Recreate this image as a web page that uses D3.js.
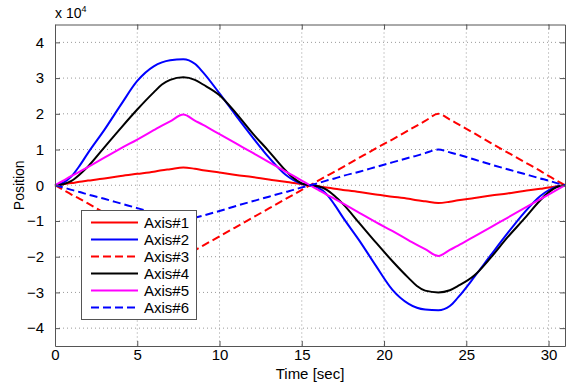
<!DOCTYPE html>
<html>
<head>
<meta charset="utf-8">
<script src="https://cdn.jsdelivr.net/npm/d3@7"></script>
<style>
  html, body { margin: 0; padding: 0; background: #fff; }
  svg { display: block; }
</style>
</head>
<body>
<script>
// time samples (sec)
const time = [0, 0.5, 1, 1.5, 2, 3, 4, 5, 6, 6.5, 7, 7.8, 8.5, 9, 10, 11, 12, 13, 14, 14.5, 15, 15.5,
  16, 16.5, 17, 17.5, 18.5, 19.5, 20.5, 21.5, 22, 22.5, 23.3, 24, 24.5, 25.5, 26.5, 27.5, 28.5, 29.5, 30, 30.5, 31];

// positions (x 10^4)
const axis1 = [0, 0.03, 0.06, 0.1, 0.13, 0.19, 0.26, 0.32, 0.38, 0.42, 0.45, 0.5, 0.46, 0.42, 0.36, 0.29, 0.23, 0.16, 0.1, 0.06, 0.03, 0,
  -0.03, -0.06, -0.1, -0.13, -0.19, -0.26, -0.32, -0.38, -0.42, -0.45, -0.5, -0.46, -0.42, -0.36, -0.29, -0.23, -0.16, -0.1, -0.06, -0.03, 0];
const axis2 = [0, 0.07, 0.25, 0.55, 0.9, 1.55, 2.25, 2.92, 3.33, 3.44, 3.5, 3.53, 3.4, 3.16, 2.57, 1.95, 1.35, 0.78, 0.3, 0.14, 0.04, 0,
  -0.07, -0.25, -0.55, -0.9, -1.55, -2.25, -2.92, -3.32, -3.43, -3.48, -3.5, -3.38, -3.14, -2.56, -1.95, -1.35, -0.78, -0.3, -0.14, -0.04, 0];
const axis3 = [0, -0.13, -0.26, -0.38, -0.51, -0.77, -1.03, -1.28, -1.54, -1.67, -1.8, -1.98, -1.82, -1.69, -1.43, -1.17, -0.91, -0.65, -0.39, -0.26, -0.13, 0,
  0.13, 0.26, 0.38, 0.51, 0.77, 1.03, 1.28, 1.54, 1.67, 1.8, 2.0, 1.84, 1.71, 1.45, 1.18, 0.92, 0.66, 0.4, 0.26, 0.13, 0];
const axis4 = [0, 0.03, 0.12, 0.3, 0.52, 1.06, 1.6, 2.12, 2.6, 2.82, 2.95, 3.02, 2.95, 2.82, 2.52, 2.02, 1.46, 0.95, 0.42, 0.2, 0.05, 0,
  -0.03, -0.12, -0.3, -0.52, -1.06, -1.6, -2.12, -2.6, -2.82, -2.95, -3.0, -2.94, -2.82, -2.52, -2.02, -1.46, -0.95, -0.42, -0.2, -0.05, 0];
const axis5 = [0, 0.13, 0.26, 0.38, 0.51, 0.77, 1.03, 1.28, 1.54, 1.67, 1.79, 1.98, 1.81, 1.69, 1.43, 1.17, 0.91, 0.65, 0.39, 0.26, 0.13, 0,
  -0.13, -0.26, -0.38, -0.51, -0.77, -1.03, -1.28, -1.54, -1.67, -1.79, -1.98, -1.81, -1.69, -1.43, -1.17, -0.91, -0.65, -0.39, -0.26, -0.13, 0];
const axis6 = [0, -0.06, -0.13, -0.19, -0.26, -0.38, -0.51, -0.64, -0.77, -0.83, -0.9, -0.99, -0.91, -0.85, -0.72, -0.58, -0.45, -0.32, -0.19, -0.13, -0.06, 0,
  0.06, 0.13, 0.19, 0.26, 0.38, 0.51, 0.64, 0.77, 0.83, 0.9, 1.0, 0.92, 0.86, 0.72, 0.58, 0.45, 0.32, 0.19, 0.13, 0.06, 0];

const seriesNames = ["Axis#1", "Axis#2", "Axis#3", "Axis#4", "Axis#5", "Axis#6"];
const seriesValues = [axis1, axis2, axis3, axis4, axis5, axis6];
const seriesColors = ["#ff0000", "#0000ff", "#ff0000", "#000000", "#ff00ff", "#0000ff"];
const seriesDashed = [false, false, true, false, false, true];

const xTicks = [0, 5, 10, 15, 20, 25, 30];
const yTicks = [-4, -3, -2, -1, 0, 1, 2, 3, 4];

const width = 568;
const height = 384;
const plotLeft = 55, plotRight = 565, plotTop = 24.5, plotBottom = 346;
const font = "Arial, 'Liberation Sans', sans-serif";

const svg = d3.select("body").append("svg")
  .attr("width", width)
  .attr("height", height);

const x = d3.scaleLinear().domain([0, 31]).range([plotLeft, plotRight]);
const y = d3.scaleLinear().domain([-4.5, 4.5]).range([plotBottom, plotTop]);

// grid
const grid = svg.append("g");
grid.selectAll("line.gx").data(xTicks.filter(d => d > 0)).join("line")
  .attr("class", "gx")
  .attr("x1", d => x(d)).attr("x2", d => x(d))
  .attr("y1", plotTop).attr("y2", plotBottom)
  .attr("stroke", "#999").attr("stroke-dasharray", "1,3");
grid.selectAll("line.gy").data(yTicks).join("line")
  .attr("class", "gy")
  .attr("x1", plotLeft).attr("x2", plotRight)
  .attr("y1", d => y(d)).attr("y2", d => y(d))
  .attr("stroke", "#999").attr("stroke-dasharray", "1,3");

// lines
const line = d3.line()
  .x(d => x(d[0]))
  .y(d => y(d[1]))
  .curve(d3.curveMonotoneX);

seriesValues.forEach((vals, i) => {
  svg.append("path")
    .datum(time.map((t, k) => [t, vals[k]]))
    .attr("fill", "none")
    .attr("stroke", seriesColors[i])
    .attr("stroke-width", 2)
    .attr("stroke-dasharray", seriesDashed[i] ? "8,4" : null)
    .attr("d", line);
});

// axes (ticks pointing inward)
function styleAxis(g) {
  g.select(".domain").attr("stroke", "#555");
  g.selectAll(".tick line").attr("stroke", "#555");
  g.selectAll("text").attr("font-size", "15px").attr("font-family", font).attr("fill", "#000");
}
svg.append("g").attr("transform", `translate(0,${plotBottom})`)
  .call(d3.axisBottom(x).tickValues(xTicks).tickSize(-5).tickSizeOuter(0).tickPadding(3))
  .call(styleAxis);
svg.append("g").attr("transform", `translate(0,${plotTop})`)
  .call(d3.axisTop(x).tickValues(xTicks).tickSize(-5).tickSizeOuter(0).tickFormat(""))
  .call(styleAxis);
svg.append("g").attr("transform", `translate(${plotLeft},0)`)
  .call(d3.axisLeft(y).tickValues(yTicks).tickSize(-5).tickSizeOuter(0).tickPadding(11))
  .call(styleAxis);
svg.append("g").attr("transform", `translate(${plotRight},0)`)
  .call(d3.axisRight(y).tickValues(yTicks).tickSize(-5).tickSizeOuter(0).tickFormat(""))
  .call(styleAxis);

// labels
svg.append("text")
  .attr("x", (plotLeft + plotRight) / 2).attr("y", 379)
  .attr("text-anchor", "middle")
  .attr("font-size", "15px").attr("font-family", font)
  .text("Time [sec]");

svg.append("text")
  .attr("transform", `translate(24,${y(0)}) rotate(-90)`)
  .attr("text-anchor", "middle")
  .attr("font-size", "14px").attr("font-family", font)
  .text("Position");

const expo = svg.append("text")
  .attr("x", plotLeft).attr("y", 18)
  .attr("font-size", "14px").attr("font-family", font)
  .text("x 10");
expo.append("tspan").attr("dy", -6).attr("font-size", "9px").text("4");

// legend
const lg = svg.append("g");
lg.append("rect")
  .attr("x", 81.5).attr("y", 210.5)
  .attr("width", 115).attr("height", 109)
  .attr("fill", "#fff").attr("stroke", "#555");
const ly = d3.scalePoint().domain(seriesNames).range([222.5, 307.5]);
seriesNames.forEach((name, i) => {
  lg.append("line")
    .attr("x1", 91).attr("x2", 138)
    .attr("y1", ly(name)).attr("y2", ly(name))
    .attr("stroke", seriesColors[i])
    .attr("stroke-width", 2)
    .attr("stroke-dasharray", seriesDashed[i] ? "8,4" : null);
  lg.append("text")
    .attr("x", 144).attr("y", ly(name) + 5)
    .attr("font-size", "15px").attr("font-family", font)
    .text(name);
});
</script>
</body>
</html>
